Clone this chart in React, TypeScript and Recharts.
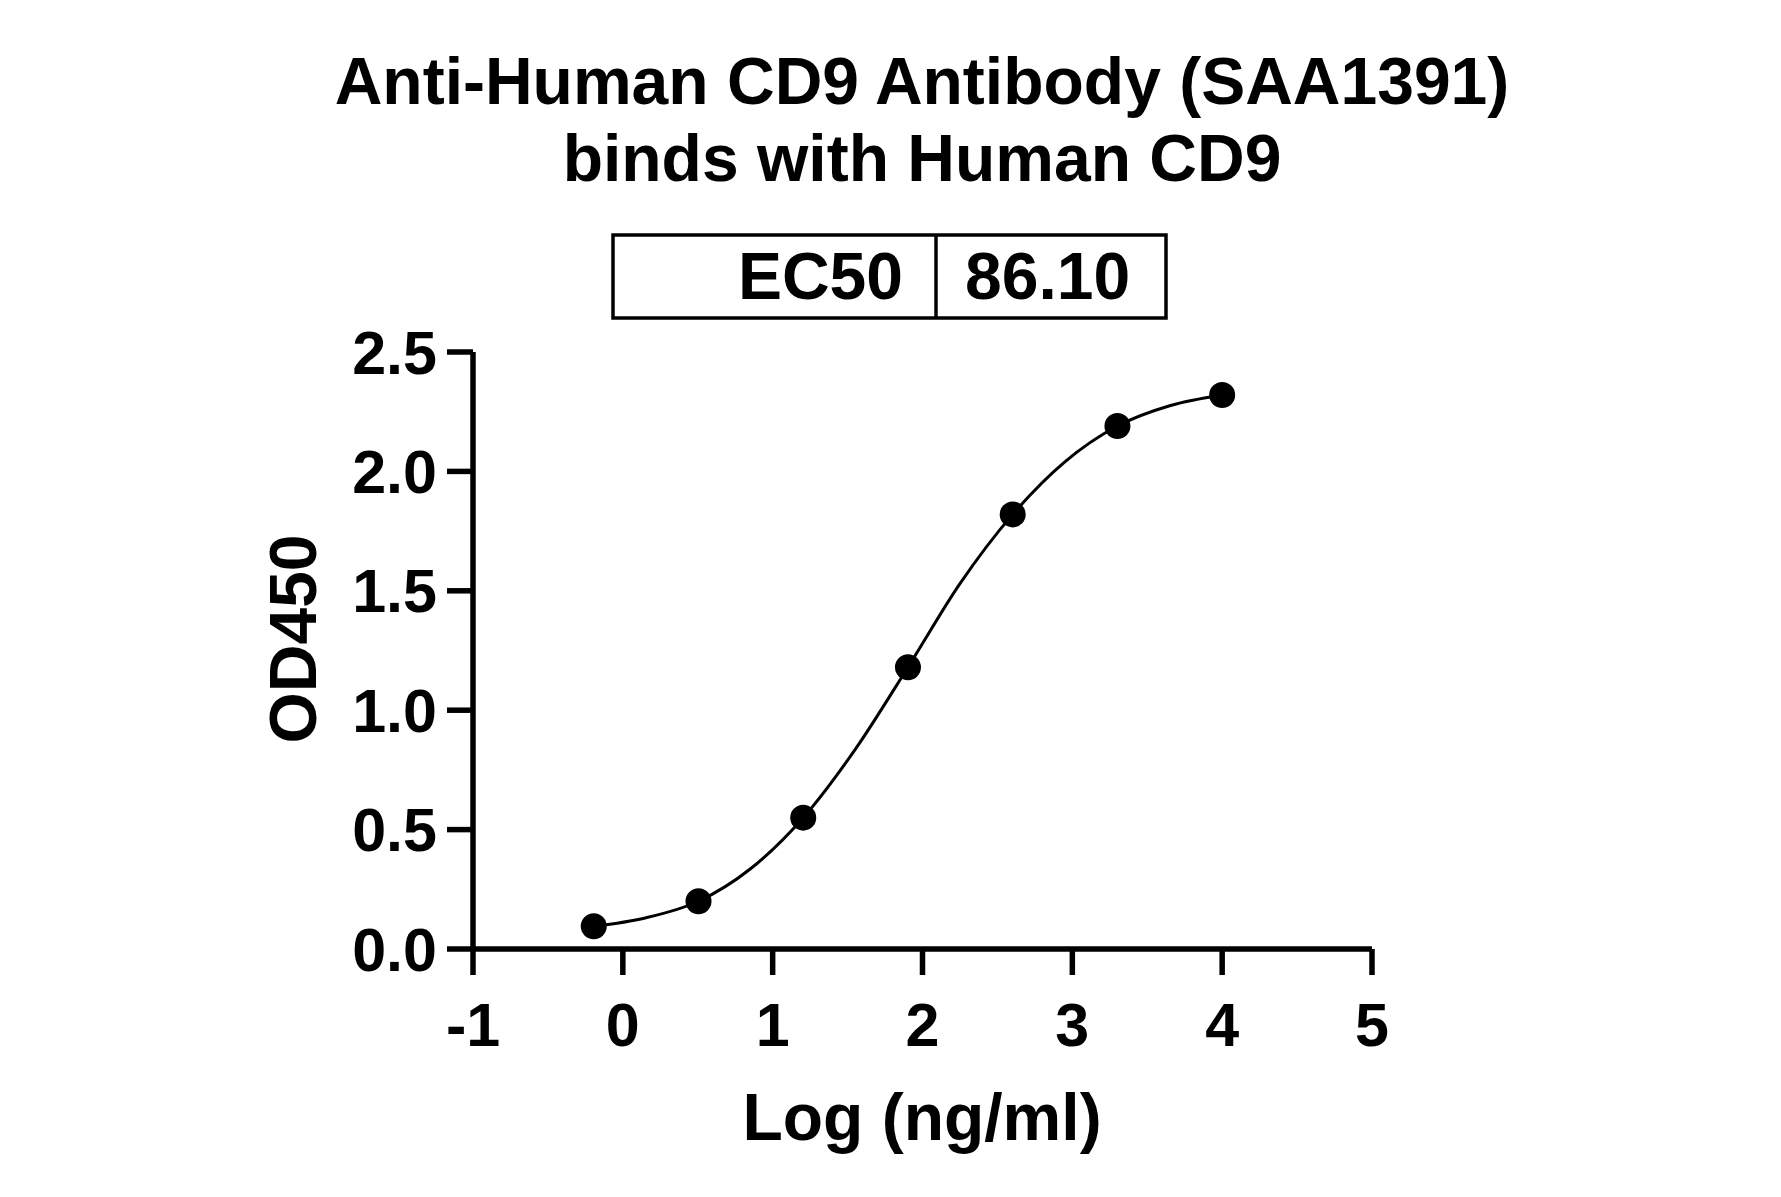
import React from "react";
import { ComposedChart, Line, Scatter, XAxis, YAxis } from "recharts";

// ---- data ----
const xTicks = [-1, 0, 1, 2, 3, 4, 5];
const yTicks = [0, 0.5, 1, 1.5, 2, 2.5];

// measured points (log ng/ml vs OD450)
const logConc = [-0.194, 0.505, 1.204, 1.903, 2.602, 3.301, 4.0];
const od450 = [0.095, 0.2, 0.55, 1.18, 1.82, 2.19, 2.32];

// fitted curve
const curveLog = [-0.194, 0.15, 0.505, 0.85, 1.204, 1.55, 1.903, 2.25, 2.602, 2.95, 3.301, 3.65, 4.0];
const curveOD = [0.095, 0.13, 0.2, 0.335, 0.55, 0.835, 1.18, 1.53, 1.82, 2.04, 2.19, 2.275, 2.32];

const titleLines = ["Anti-Human CD9 Antibody (SAA1391)", "binds with Human CD9"];
const ec50Label = "EC50";
const ec50Value = "86.10";
const xLabel = "Log (ng/ml)";
const yLabel = "OD450";

const points = logConc.map((x, i) => ({ x, y: od450[i] }));
const curve = curveLog.map((x, i) => ({ x, y: curveOD[i] }));

const FONT = "'Liberation Sans', Arial, Helvetica, sans-serif";
const W = 1765;
const H = 1181;

const Dot = (props: any) => {
  const { cx, cy } = props;
  if (cx == null || cy == null) return null;
  return <circle cx={cx} cy={cy} r={13} fill="#000" />;
};

const tickStyle = { fill: "#000", fontSize: 61, fontWeight: "bold", fontFamily: FONT };

export default function App() {
  return (
    <div style={{ position: "relative", width: W, height: H, background: "#fff" }}>
      <ComposedChart
        width={W}
        height={H}
        margin={{ top: 344, right: 401, bottom: 140, left: 365 }}
        style={{ background: "#fff" }}
      >
        <XAxis
          type="number"
          dataKey="x"
          domain={[-1, 5]}
          ticks={xTicks}
          interval={0}
          allowDataOverflow
          height={100}
          tickSize={26}
          tickMargin={28}
          axisLine={{ stroke: "#000", strokeWidth: 5.5 }}
          tickLine={{ stroke: "#000", strokeWidth: 5.5 }}
          tick={tickStyle}
        />
        <YAxis
          type="number"
          dataKey="y"
          domain={[0, 2.5]}
          ticks={yTicks}
          interval={0}
          allowDataOverflow
          width={100}
          tickSize={26}
          tickMargin={10}
          tickFormatter={(v: number) => v.toFixed(1)}
          axisLine={{ stroke: "#000", strokeWidth: 5.5 }}
          tickLine={{ stroke: "#000", strokeWidth: 5.5 }}
          tick={tickStyle}
        />
        <Line
          data={curve}
          dataKey="y"
          type="monotone"
          stroke="#000"
          strokeWidth={3}
          dot={false}
          activeDot={false}
          isAnimationActive={false}
        />
        <Scatter data={points} dataKey="y" fill="#000" shape={Dot} isAnimationActive={false} />
      </ComposedChart>
      <svg
        width={W}
        height={H}
        style={{ position: "absolute", left: 0, top: 0, pointerEvents: "none" }}
      >
        <g fontFamily={FONT} fontWeight="bold" fill="#000">
          <text x={914} y={96} fontSize={66} textAnchor="middle">{titleLines[0]}</text>
          <text x={914} y={173} fontSize={66} textAnchor="middle">{titleLines[1]}</text>
          <rect x={605} y={227} width={553} height={83} fill="none" stroke="#000" strokeWidth={3.5} />
          <line x1={928} y1={227} x2={928} y2={310} stroke="#000" strokeWidth={3.5} />
          <text x={895} y={291} fontSize={66} textAnchor="end">{ec50Label}</text>
          <text x={957} y={291} fontSize={66} textAnchor="start">{ec50Value}</text>
          <text x={914} y={1132} fontSize={66} textAnchor="middle">{xLabel}</text>
          <text x={308} y={631} fontSize={66} textAnchor="middle" transform="rotate(-90 308 631)">{yLabel}</text>
        </g>
      </svg>
    </div>
  );
}
